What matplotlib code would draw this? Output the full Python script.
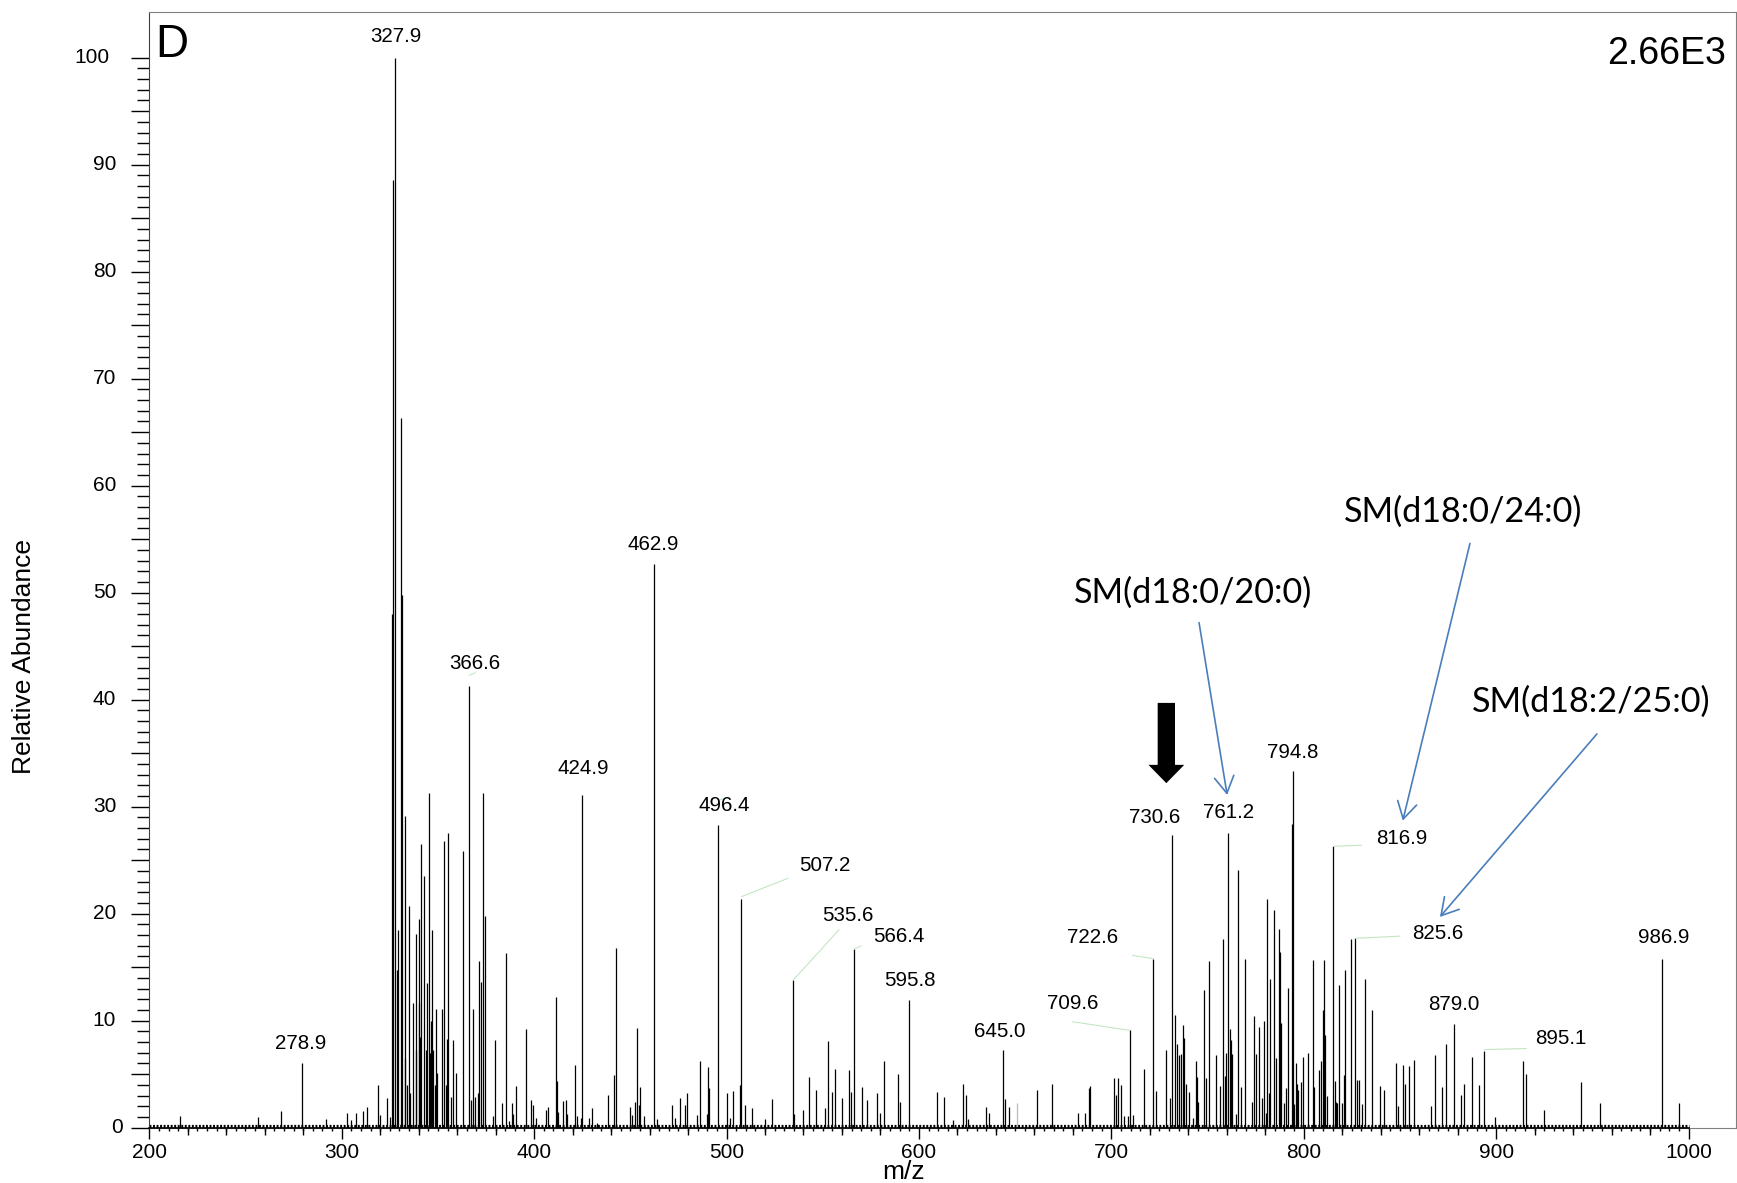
import matplotlib
matplotlib.use("Agg")
import matplotlib.pyplot as plt
import matplotlib.transforms as mtransforms
from matplotlib.patches import FancyArrow, FancyArrowPatch, ArrowStyle
from matplotlib.ticker import FixedLocator, NullFormatter

# peak list (m/z, relative abundance)
mz = [216.1, 256.7, 268.2, 279.2, 292.0, 302.6, 305.0, 307.2, 311.2, 313.3,
      318.9, 320.1, 323.6, 325.3, 326.3, 326.9, 327.9, 328.7, 329.4, 330.9,
      331.3, 332.7, 333.1, 333.8, 334.8, 335.7, 337.2, 338.4, 338.8, 340.0,
      340.3, 340.9, 341.4, 342.9, 344.0, 344.5, 345.5, 346.1, 346.6, 347.1,
      347.6, 348.7, 349.2, 349.7, 352.3, 353.2, 354.4, 354.9, 355.4, 357.0,
      358.0, 359.6, 363.2, 366.3, 367.0, 368.4, 369.4, 371.0, 371.5, 372.6,
      373.6, 374.6, 378.8, 379.8, 383.2, 385.6, 386.8, 388.4, 389.2, 390.8,
      396.0, 398.6, 399.6, 401.2, 406.4, 407.4, 411.6, 412.1, 412.6, 415.2,
      416.8, 417.3, 421.5, 422.5, 424.3, 425.1, 428.7, 430.3, 432.9, 438.6,
      441.7, 442.8, 450.0, 451.1, 452.6, 453.7, 454.7, 455.2, 457.3, 462.5,
      464.1, 471.9, 473.4, 476.0, 478.6, 479.7, 484.9, 486.4, 490.1, 490.6,
      491.1, 495.8, 500.0, 502.0, 503.6, 507.2, 507.7, 509.8, 513.5, 520.2,
      523.8, 534.7, 535.2, 539.9, 543.0, 546.7, 551.4, 552.6, 555.0, 556.6,
      560.2, 563.8, 564.9, 566.4, 570.6, 573.2, 578.4, 580.0, 582.0, 589.3,
      590.3, 595.0, 609.6, 613.2, 617.5, 623.1, 624.6, 625.7, 635.0, 636.6,
      643.9, 644.9, 647.0, 661.5, 669.0, 682.9, 686.5, 688.2, 689.1, 701.5,
      702.6, 703.6, 705.2, 706.7, 708.8, 709.5, 711.4, 717.1, 721.8, 723.4,
      728.6, 730.7, 731.7, 733.3, 734.3, 735.3, 736.4, 737.4, 737.9, 739.0,
      740.5, 742.6, 744.2, 744.7, 745.2, 748.3, 749.4, 750.9, 754.6, 756.6,
      758.2, 759.2, 759.8, 760.8, 761.8, 762.4, 762.9, 765.0, 766.0, 767.6,
      769.6, 773.3, 774.3, 775.4, 776.9, 778.5, 779.5, 780.6, 781.1, 782.1,
      782.6, 784.7, 785.8, 787.3, 787.8, 788.3, 789.9, 790.9, 792.0, 794.1,
      794.6, 795.1, 796.1, 796.7, 797.2, 798.7, 799.8, 802.4, 805.0, 805.5,
      808.1, 809.1, 810.1, 810.6, 811.1, 812.3, 815.4, 816.4, 817.0, 817.5,
      818.5, 820.1, 821.1, 821.6, 824.7, 826.8, 827.8, 828.9, 830.4, 832.0,
      835.6, 839.8, 841.9, 848.1, 849.2, 851.7, 852.8, 854.9, 857.4, 866.3,
      868.4, 872.0, 874.1, 878.2, 881.9, 883.4, 887.6, 891.2, 893.8, 899.5,
      914.1, 915.7, 925.0, 944.2, 954.1, 986.3, 995.2]
intensity = [1.1, 1.0, 1.6, 6.0, 0.8, 1.4, 0.7, 1.4, 1.6, 1.9,
             4.0, 1.2, 2.8, 1.0, 48.0, 88.6, 100.0, 14.7, 18.5, 66.3,
             49.8, 29.1, 6.5, 4.0, 20.7, 3.2, 11.7, 7.3, 18.1, 19.5,
             11.7, 8.5, 26.5, 23.5, 7.3, 13.5, 31.3, 7.0, 10.0, 18.5,
             7.3, 4.0, 11.1, 5.1, 11.1, 26.8, 4.0, 8.3, 27.5, 2.9,
             8.2, 5.1, 25.9, 41.3, 2.6, 11.1, 2.9, 3.2, 15.6, 13.6,
             31.3, 19.8, 1.1, 8.2, 2.3, 16.3, 0.6, 2.3, 1.3, 3.9,
             9.2, 2.6, 2.1, 0.9, 1.7, 1.9, 12.2, 4.4, 1.5, 2.5,
             2.6, 1.3, 5.9, 1.1, 0.9, 31.1, 0.9, 1.8, 0.4, 3.1,
             4.9, 16.8, 1.9, 1.2, 2.4, 9.3, 2.1, 3.8, 1.1, 52.7,
             0.8, 2.1, 0.9, 2.8, 2.1, 3.2, 1.2, 6.2, 1.3, 5.7,
             3.7, 28.3, 3.2, 0.9, 3.4, 4.0, 21.4, 2.1, 1.8, 0.8,
             2.7, 13.8, 1.3, 1.7, 4.7, 3.5, 1.8, 8.1, 3.3, 5.5,
             2.8, 5.4, 3.3, 16.7, 3.8, 2.6, 3.2, 1.4, 6.2, 5.0,
             2.4, 11.9, 3.3, 2.9, 0.7, 4.1, 3.1, 0.8, 1.9, 1.4,
             7.3, 2.7, 1.9, 3.5, 4.1, 1.4, 1.4, 3.7, 3.9, 4.6,
             3.1, 4.6, 4.0, 1.1, 1.1, 9.1, 1.2, 5.5, 15.8, 3.4,
             7.3, 2.8, 27.4, 10.5, 7.8, 6.8, 6.9, 9.6, 8.4, 4.1,
             3.3, 0.9, 6.2, 4.7, 2.4, 12.9, 4.6, 15.6, 6.8, 3.9,
             17.6, 4.8, 7.0, 27.5, 9.2, 8.2, 6.9, 1.3, 24.1, 3.8,
             15.8, 2.4, 10.4, 6.9, 9.4, 2.8, 10.0, 1.4, 21.4, 3.2,
             13.9, 20.3, 6.5, 18.6, 16.4, 9.8, 2.3, 3.7, 13.1, 28.4,
             33.3, 2.2, 6.0, 4.1, 3.5, 4.3, 6.6, 7.0, 15.7, 3.8,
             5.4, 6.2, 11.0, 15.7, 8.7, 3.0, 26.3, 4.4, 2.4, 2.3,
             13.3, 2.3, 4.9, 14.7, 17.6, 17.7, 4.5, 4.5, 2.2, 13.9,
             11.0, 3.9, 3.5, 6.0, 2.0, 5.9, 4.1, 5.8, 6.3, 2.0,
             6.8, 3.8, 7.8, 9.7, 3.1, 4.1, 6.6, 4.0, 7.2, 1.0,
             6.2, 5.0, 1.7, 4.3, 2.3, 15.8, 2.3]
gray_mz = [651.2]
gray_intensity = [2.3]
noise_level = 0.3

# peak labels as printed on the spectrum, with where the text sits
label_text = ["278.9", "327.9", "366.6", "424.9", "462.9", "496.4", "507.2",
              "535.6", "566.4", "595.8", "645.0", "709.6", "722.6", "730.6",
              "761.2", "794.8", "816.9", "825.6", "879.0", "895.1", "986.9"]
label_x = [278.4, 328.0, 369.4, 425.3, 462.1, 499.0, 551.3, 562.8, 589.6,
           595.2, 642.0, 680.1, 690.4, 722.6, 760.7, 794.3, 850.8, 869.7,
           877.9, 933.7, 987.2]
label_y = [8.07, 102.1, 43.5, 33.7, 54.7, 30.3, 24.7, 20.0, 18.0, 13.9, 9.1,
           11.8, 17.9, 29.1, 29.6, 35.2, 27.2, 18.3, 11.65, 8.5, 17.9]

# faint leader lines joining displaced labels to their peaks
leaders = [(366.4, 42.3, 369.3, 42.5), (495.7, 30.6, 499.7, 30.8),
           (507.9, 21.6, 531.8, 23.3), (534.7, 13.8, 558.5, 18.5),
           (566.4, 16.7, 569.9, 17.0), (680.0, 9.9, 709.4, 9.1),
           (711.1, 16.1, 721.8, 15.8), (815.6, 26.3, 830.0, 26.4),
           (826.8, 17.7, 850.0, 17.9), (893.9, 7.3, 915.6, 7.4)]

lipid_names = ["SM(d18:0/20:0)", "SM(d18:0/24:0)", "SM(d18:2/25:0)"]
lipid_text_xy = [(742.6, 49.97), (882.8, 57.6), (949.4, 39.8)]
lipid_arrows = [((745.6, 47.2), (760.2, 31.1)),
                ((886.4, 54.6), (851.5, 28.7)),
                ((952.4, 36.8), (870.8, 19.7))]

y_tick_values = list(range(0, 101, 10))

plt.rcParams['font.family'] = ['Liberation Sans', 'DejaVu Sans']

fig = plt.figure(figsize=(17.37, 11.83), dpi=100)
ax = fig.add_axes([0.08595, 0.04675, 0.9135, 0.9431])
ax.set_xlim(200, 1024.7)
ax.set_ylim(0, 104.27)

ax.vlines(mz, 0, intensity, color='black', lw=0.9)
ax.vlines(gray_mz, 0, gray_intensity, color='#bbbbbb', lw=0.9)
# noisy baseline
ax.plot([200, 1000], [noise_level / 2, noise_level / 2], color='black',
        lw=noise_level * 10.7 * 0.72, ls=(0, (0.6, 0.5)), solid_capstyle='butt')
ax.plot([200, 1000], [0, 0], color='black', lw=1.2, clip_on=False, zorder=5)

for t, x, y in zip(label_text, label_x, label_y):
    ax.text(x, y - 0.67, t, fontsize=14.8, ha='center', va='baseline')
for x0, y0, x1, y1 in leaders:
    ax.plot([x0, x1], [y0, y1], color='#c4e6c4', lw=0.8)

blue = '#4a7ebb'
for name, (tx, ty), (start, end) in zip(lipid_names, lipid_text_xy, lipid_arrows):
    ax.text(tx, ty, name, fontsize=24.6, family=['Lato', 'DejaVu Sans'],
            ha='center', va='center')
    ax.add_patch(FancyArrowPatch(start, end,
                                 arrowstyle=ArrowStyle('->', head_length=1.2, head_width=0.7),
                                 mutation_scale=10, color=blue, lw=1.2,
                                 shrinkA=0, shrinkB=0))

# thick black arrow over 730.6
ax.add_patch(FancyArrow(728.6, 39.7, 0, -7.5, width=9.0, head_width=18.6,
                        head_length=1.71, length_includes_head=True,
                        color='black', lw=0))

ax.text(155 / 1737, 0.9518, 'D', transform=fig.transFigure, fontsize=33,
        ha='left', va='baseline')
ax.text(0.9937, 0.9459, '2.66E3', transform=fig.transFigure, fontsize=27,
        ha='right', va='baseline')
fig.text(24 / 1737, 1 - 656 / 1183, 'Relative Abundance', rotation=90,
         fontsize=19, ha='center', va='center')
fig.text(904 / 1737, 1 - 1172 / 1183, 'm/z', fontsize=19, ha='center',
         va='center')

# axes frame
for side in ['top', 'right', 'bottom']:
    ax.spines[side].set_color('#808080')
ax.spines['left'].set_color('#404040')

# x ticks: 100 major, 20 medium, 5 minor
ax.xaxis.set_major_locator(FixedLocator(list(range(200, 1001, 100))))
ax.xaxis.set_minor_locator(FixedLocator(list(range(200, 1001, 5))))
ax.tick_params(axis='x', which='major', length=8, width=1, labelsize=15, pad=3)
ax.tick_params(axis='x', which='minor', length=2.4, width=1)
sec = ax.secondary_xaxis('bottom')
sec.set_xticks([v for v in range(220, 1000, 20) if v % 100])
sec.tick_params(length=4.7, width=1, labelbottom=False)
sec.spines['bottom'].set_visible(False)

# y ticks: 5 major, 1 minor; labels every 10 placed like the instrument software
ax.yaxis.set_major_locator(FixedLocator(list(range(0, 101, 5))))
ax.yaxis.set_minor_locator(FixedLocator(list(range(0, 101))))
ax.yaxis.set_major_formatter(NullFormatter())
ax.yaxis.set_minor_formatter(NullFormatter())
ax.tick_params(axis='y', which='major', length=13, width=1)
ax.tick_params(axis='y', which='minor', length=9, width=1)
ylab_tr = mtransforms.blended_transform_factory(fig.transFigure, ax.transData)
right_edge_px = {1: 122.9, 2: 116.2, 3: 109.6}
for v in y_tick_values:
    s = '%d' % v
    ax.text(right_edge_px[len(s)] / 1737, v, s, transform=ylab_tr, fontsize=15,
            ha='right', va='center', clip_on=False)

fig.savefig('out.png', dpi=100)
